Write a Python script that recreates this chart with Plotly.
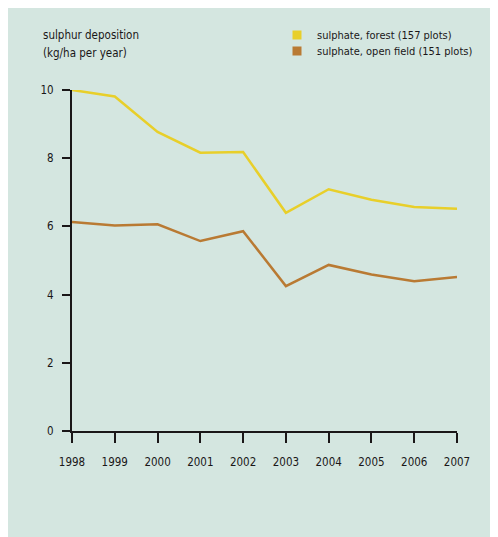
import plotly.graph_objects as go

years = [1998, 1999, 2000, 2001, 2002, 2003, 2004, 2005, 2006, 2007]
forest = [10.0, 9.81, 8.77, 8.16, 8.18, 6.40, 7.09, 6.78, 6.57, 6.52]
open_field = [6.13, 6.03, 6.06, 5.57, 5.86, 4.25, 4.87, 4.59, 4.39, 4.52]
y_ticks = [0, 2, 4, 6, 8, 10]
name_forest = "sulphate, forest (157 plots)"
name_open = "sulphate, open field (151 plots)"
title_lines = ["sulphur deposition", "(kg/ha per year)"]

# page body has an 8px margin; work in figure coordinates
OFF = 8
W, H = 498 - OFF, 537 - OFF
L, R, T, B = 72 - OFF, 457 - OFF, 89.5 - OFF, 431 - OFF
FONT = "Liberation Sans Narrow, DejaVu Sans Condensed, Arial Narrow, sans-serif"
YEL = "#e8cf2a"
BRN = "#b97a33"
BG = "#d4e6e0"
TXT = "#1a1718"

def px(x):
    return (x - OFF - L) / (R - L)

def py(y):
    return (B - (y - OFF)) / (B - T)

fig = go.Figure()
fig.add_trace(go.Scatter(x=years, y=forest, mode="lines", line=dict(color=YEL, width=2.5),
                         showlegend=False, name=name_forest))
fig.add_trace(go.Scatter(x=years, y=open_field, mode="lines", line=dict(color=BRN, width=2.5),
                         showlegend=False, name=name_open))
fig.add_trace(go.Scatter(x=[None], y=[None], mode="markers", name=name_forest, legend="legend",
                         marker=dict(symbol="square", size=9, color=YEL)))
fig.add_trace(go.Scatter(x=[None], y=[None], mode="markers", name=name_open, legend="legend2",
                         marker=dict(symbol="square", size=9, color=BRN)))

fig.add_shape(type="rect", xref="paper", yref="paper", x0=px(7), x1=px(510), y0=py(7), y1=py(560),
              fillcolor=BG, line=dict(width=0), layer="below")
fig.add_shape(type="line", xref="paper", yref="paper", x0=px(7), x1=px(7), y0=py(7), y1=py(560),
              line=dict(color="#a8cdc2", width=2), layer="below")

for i, (line, yy) in enumerate(zip(title_lines, [34, 52])):
    fig.add_annotation(xref="paper", yref="paper", x=px(41), y=py(yy), xanchor="left", yanchor="middle",
                       text=line, showarrow=False, align="left",
                       font=dict(family=FONT, size=11.5, color=TXT))

legend_common = dict(xanchor="left", yanchor="top", bgcolor="rgba(0,0,0,0)",
                     font=dict(family=FONT, size=11, color=TXT), tracegroupgap=0)

fig.update_layout(
    width=W, height=H,
    margin=dict(l=L, r=W - R, t=T, b=H - B, pad=0),
    paper_bgcolor="white", plot_bgcolor="rgba(0,0,0,0)",
    font=dict(family=FONT, size=12, color=TXT),
    xaxis=dict(range=[1998, 2007], tickvals=years, ticktext=[str(y) for y in years],
               showgrid=False, zeroline=False, showline=True, linecolor=TXT, linewidth=2,
               ticks="outside", ticklen=10, tickwidth=2, tickcolor=TXT, ticklabelstandoff=9,
               tickfont=dict(family=FONT, size=11.5, color=TXT)),
    yaxis=dict(range=[0, 10], tickvals=y_ticks, showgrid=False, zeroline=False, showline=True,
               linecolor=TXT, linewidth=2, ticks="outside", ticklen=8, tickwidth=2, tickcolor=TXT,
               ticklabelstandoff=6, tickfont=dict(family=FONT, size=11.5, color=TXT)),
    legend=dict(x=px(277), y=py(20), **legend_common),
    legend2=dict(x=px(277), y=py(36), **legend_common),
)

fig.write_html("out.html")
